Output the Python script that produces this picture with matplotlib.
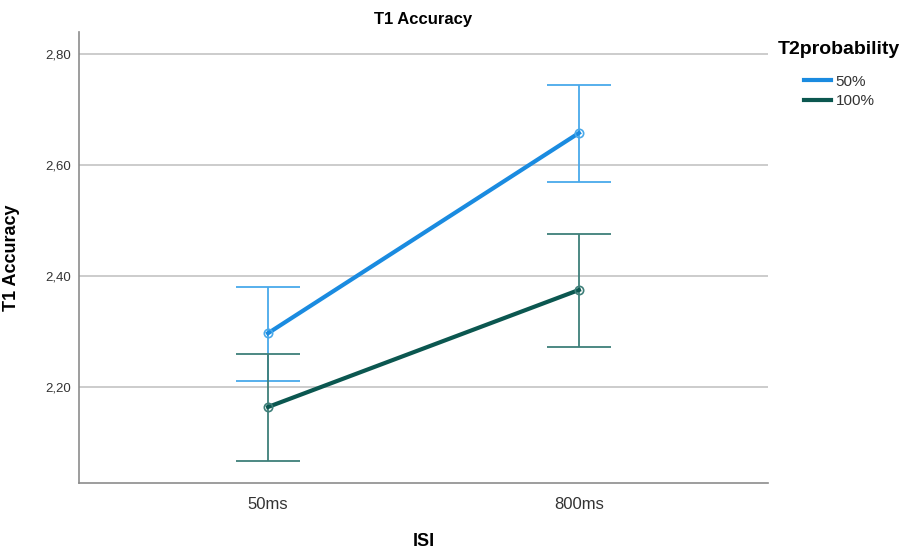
import matplotlib.pyplot as plt
import numpy as np

plt.rcParams['font.family'] = ['Liberation Sans', 'DejaVu Sans']

# data
isi = ['50ms', '800ms']
p50_mean = [2.297, 2.658]
p50_upper = [2.381, 2.745]
p50_lower = [2.211, 2.570]
p100_mean = [2.164, 2.375]
p100_upper = [2.259, 2.476]
p100_lower = [2.067, 2.273]
y_ticks = [2.20, 2.40, 2.60, 2.80]

fig = plt.figure(figsize=(9.02, 5.54), dpi=100)
ax = fig.add_axes([0.0876, 0.1282, 0.7638, 0.814])

x = np.arange(len(isi))

series = [
    ('50%', p50_mean, p50_lower, p50_upper, '#1a8be0', '#49a9ea'),
    ('100%', p100_mean, p100_lower, p100_upper, '#0b5750', '#3e7f79'),
]

handles = []
for label, mean, lo, hi, line_col, err_col in series:
    mean = np.array(mean)
    yerr = [mean - np.array(lo), np.array(hi) - mean]
    ax.errorbar(x, mean, yerr=yerr, fmt='none', ecolor=err_col, elinewidth=1.3,
                capsize=23, capthick=1.3, zorder=3)
    h, = ax.plot(x, mean, color=line_col, linewidth=3, zorder=4, label=label)
    ax.plot(x, mean, linestyle='none', marker='o', markersize=6, markerfacecolor='none',
            markeredgecolor=err_col, markeredgewidth=1.2, zorder=5)
    handles.append(h)

ax.set_xlim(-0.608, 1.608)
ax.set_ylim(2.027, 2.84)
ax.set_xticks(x)
ax.set_xticklabels(isi, fontsize=12, color='#333333')
ax.set_yticks(y_ticks)
ax.set_yticklabels([f'{v:.2f}'.replace('.', ',') for v in y_ticks], fontsize=9.5, color='#333333')
ax.tick_params(length=0, pad=6)
ax.tick_params(axis='x', pad=10)

ax.grid(axis='y', color='#c4c4c4', linewidth=1.2)
ax.set_axisbelow(True)
for s in ['top', 'right']:
    ax.spines[s].set_visible(False)
for s in ['left', 'bottom']:
    ax.spines[s].set_color('#8c8c8c')
    ax.spines[s].set_linewidth(1.2)

ax.set_title('T1 Accuracy', fontsize=12, fontweight='bold', pad=6)
ax.set_xlabel('ISI', fontsize=13, fontweight='bold', labelpad=15)
ax.set_ylabel('T1 Accuracy', fontsize=13, fontweight='bold')
ax.yaxis.set_label_coords(-0.086, 0.5)

# legend: bold title on the left, entries indented beneath it
fig.text(778 / 902, 1 - 50 / 554, 'T2probability', fontsize=14, fontweight='bold',
         ha='left', va='center')
leg = fig.legend(handles=handles, labels=['50%', '100%'],
                 loc='upper left', bbox_to_anchor=(790 / 902, 1 - 61 / 554), frameon=False,
                 fontsize=11, handlelength=1.8, handletextpad=0.3, labelspacing=0.35)
for t in leg.get_texts():
    t.set_color('#333333')

fig.savefig('out.png', dpi=100)
